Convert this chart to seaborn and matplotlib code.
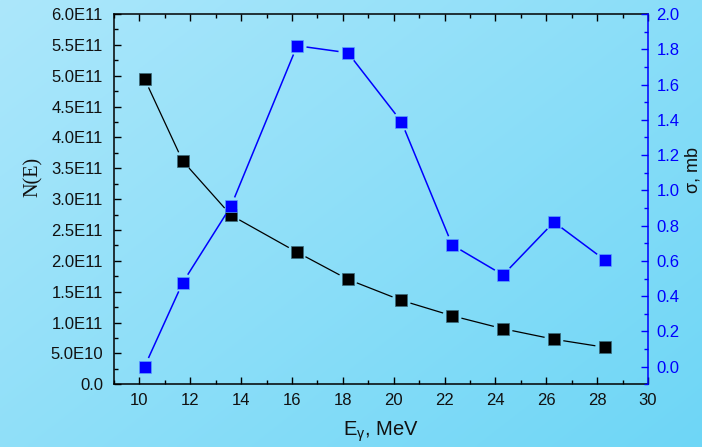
import numpy as np
import pandas as pd
import matplotlib
matplotlib.use("Agg")
import matplotlib.pyplot as plt
import seaborn as sns
from matplotlib.collections import LineCollection
from matplotlib.ticker import MultipleLocator, FixedLocator

# ---- data ----
energy = [10.2, 11.7, 13.6, 16.2, 18.2, 20.3, 22.3, 24.3, 26.3, 28.3]
n_e = [4.95e11, 3.62e11, 2.74e11, 2.14e11, 1.70e11, 1.36e11, 1.11e11, 0.90e11, 0.73e11, 0.60e11]
sigma_mb = [0.0, 0.476, 0.91, 1.82, 1.78, 1.39, 0.69, 0.52, 0.82, 0.605]
left_ticks = [0, 0.5e11, 1.0e11, 1.5e11, 2.0e11, 2.5e11, 3.0e11, 3.5e11, 4.0e11,
              4.5e11, 5.0e11, 5.5e11, 6.0e11]
left_labels = ["0.0", "5.0E10", "1.0E11", "1.5E11", "2.0E11", "2.5E11", "3.0E11",
               "3.5E11", "4.0E11", "4.5E11", "5.0E11", "5.5E11", "6.0E11"]
right_ticks = [0.0, 0.2, 0.4, 0.6, 0.8, 1.0, 1.2, 1.4, 1.6, 1.8, 2.0]
x_ticks = [10, 12, 14, 16, 18, 20, 22, 24, 26, 28, 30]

df = pd.DataFrame({"E": energy, "N": n_e, "sigma": sigma_mb})

sns.set_theme(style="ticks")
plt.rcParams["font.family"] = ["Liberation Sans", "DejaVu Sans"]
plt.rcParams["mathtext.default"] = "regular"

W, H = 702, 447
fig = plt.figure(figsize=(W / 100, H / 100), dpi=100)

# gradient background
bg = fig.add_axes([0, 0, 1, 1], zorder=-10)
yy, xx = np.mgrid[0:1:200j, 0:1:300j]
t = np.clip(0.55 * xx + 0.45 * yy, 0, 1)
c0 = np.array([172, 231, 251]) / 255.0
c1 = np.array([110, 214, 246]) / 255.0
img = c0[None, None, :] * (1 - t[..., None]) + c1[None, None, :] * t[..., None]
bg.imshow(img, aspect="auto", extent=[0, 1, 0, 1], origin="upper")
bg.set_axis_off()

left, right_px, top_px, bottom_px = 114, 648, 14, 384.3
ax = fig.add_axes([left / W, 1 - bottom_px / H, (right_px - left) / W, (bottom_px - top_px) / H])
ax.patch.set_alpha(0)
ax2 = ax.twinx()
ax2.patch.set_alpha(0)

ax.set_xlim(9, 30)
ax.set_ylim(0, 6.0e11)
ax2.set_ylim(-0.1, 2.0)

blue = "#0000FF"
gap_px = 9.5


def gapped_lines(axis, xs, ys, color, lw):
    tr = axis.transData
    pts = tr.transform(np.column_stack([xs, ys]))
    segs = []
    for a, b in zip(pts[:-1], pts[1:]):
        d = b - a
        L = np.hypot(*d)
        if L <= 2 * gap_px:
            continue
        u = d / L
        p0 = a + u * gap_px
        p1 = b - u * gap_px
        segs.append(tr.inverted().transform(np.vstack([p0, p1])))
    lc = LineCollection(segs, colors=color, linewidths=lw, zorder=2)
    axis.add_collection(lc)


gapped_lines(ax, df["E"].values, df["N"].values, "black", 0.9)
gapped_lines(ax2, df["E"].values, df["sigma"].values, blue, 1.1)

sns.scatterplot(data=df, x="E", y="N", ax=ax, marker="s", s=72, color="black",
                edgecolor="#3a6a7a", linewidth=0.5, zorder=3, legend=False)
sns.scatterplot(data=df, x="E", y="sigma", ax=ax2, marker="s", s=72, color=blue,
                edgecolor="#5aa0ff", linewidth=0.5, zorder=3, legend=False)

# axes styling
for sp in ["left", "top", "bottom"]:
    ax.spines[sp].set_color("black")
    ax.spines[sp].set_linewidth(1.1)
ax.spines["right"].set_visible(False)
for sp in ["left", "top", "bottom"]:
    ax2.spines[sp].set_visible(False)
ax2.spines["right"].set_visible(True)
ax2.spines["right"].set_color(blue)
ax2.spines["right"].set_linewidth(1.1)

ax.xaxis.set_major_locator(FixedLocator(x_ticks))
ax.xaxis.set_minor_locator(MultipleLocator(1))
ax.set_xticklabels([str(v) for v in x_ticks])
ax.yaxis.set_major_locator(FixedLocator(left_ticks))
ax.yaxis.set_minor_locator(MultipleLocator(0.25e11))
ax.set_yticklabels(left_labels)
ax.tick_params(axis="both", which="major", direction="in", length=5, width=1,
               color="black", labelsize=12, labelcolor="#111111")
ax.tick_params(axis="both", which="minor", direction="in", length=3, width=1, color="black")
ax.tick_params(axis="x", which="both", top=True, bottom=True)
ax.tick_params(axis="x", which="major", pad=6)
ax.tick_params(axis="y", which="major", pad=8)

ax2.yaxis.set_major_locator(FixedLocator(right_ticks))
ax2.yaxis.set_minor_locator(MultipleLocator(0.1))
ax2.set_yticklabels([f"{v:.1f}" for v in right_ticks])
ax2.tick_params(axis="y", which="major", direction="in", length=5, width=1,
                color=blue, labelcolor=blue, labelsize=12, pad=6)
ax2.tick_params(axis="y", which="minor", direction="in", length=3, width=1, color=blue)

ax.set_xlabel("")
ax.set_ylabel("")
ax2.set_ylabel("")

fig.text(381 / W, 1 - 432 / H, r"E$_{\gamma}$, MeV", ha="center", va="center",
         fontsize=14.5, color="#111111")
fig.text(33 / W, 1 - 177 / H, "N(E)", ha="center", va="center", rotation=90,
         fontsize=14.5, family=["Liberation Serif", "DejaVu Serif"], color="#111111")
fig.text(684 / W, 1 - 170 / H, "σ, mb", ha="left", va="center", rotation=90,
         fontsize=13, color="#111111")

fig.savefig("out.png", dpi=100)
